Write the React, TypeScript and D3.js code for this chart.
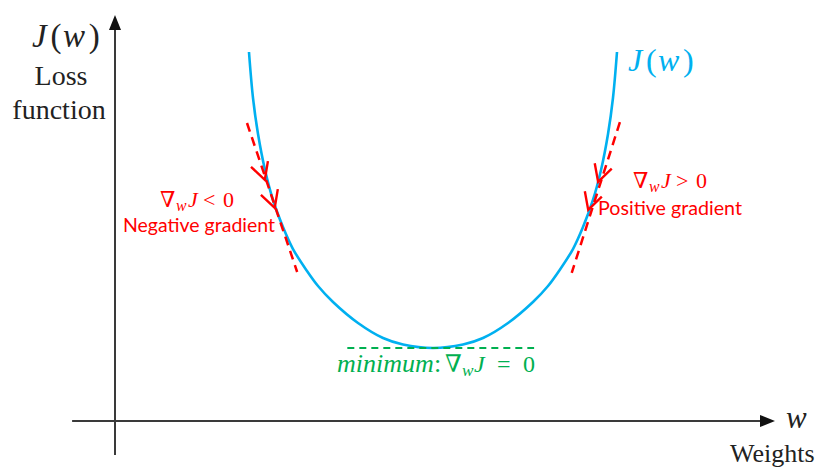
import React from "react";
import * as d3 from "d3";

// Loss curve J(w), sampled along the bowl (left wall → minimum → right wall)
const curveW = [20.3, 20.91, 21.67, 22.73, 23.94, 25.45, 26.97, 29.09, 30.76, 33.03, 36.82, 40.61, 43.64, 48.18, 52.73, 55.76, 59.55, 63.33, 65.61, 67.27, 69.39, 70.91, 72.42, 73.64, 74.7, 75.45, 76.06];
const curveJ = [90.89, 79.56, 70.69, 61.82, 54.43, 47.78, 42.36, 36.95, 33.25, 29.31, 24.14, 20.44, 18.84, 17.98, 18.84, 20.44, 24.14, 29.31, 33.25, 36.95, 42.36, 47.78, 54.43, 61.82, 70.69, 79.56, 90.89];

// Tangent segments [w0, J0, w1, J1]
const tangentLeft = [20.0, 73.4, 27.6, 36.7];
const tangentRight = [76.5, 73.6, 69.2, 36.5];

// Arrow tips along each tangent (w, J)
const arrowsLeftW = [22.7, 24.2];
const arrowsLeftJ = [59.4, 52.5];
const arrowsRightW = [73.2, 71.7];
const arrowsRightJ = [58.9, 52.0];

// Flat tangent at the minimum
const minLineW = [35.2, 63.5];
const minJ = 17.98;

// Axis extents
const xAxisW = [-6.5, 100];
const yAxisJ = [-8.4, 100];

const W = 827;
const H = 468;

const x = d3.scaleLinear().domain([0, 100]).range([115, 775]);
const y = d3.scaleLinear().domain([0, 100]).range([421, 15]);

const BLUE = "#00b0f0";
const RED = "#ff0000";
const GREEN = "#00b050";
const AXIS = "#3a3a3a";
const SERIF = "'Liberation Serif', 'DejaVu Serif', serif";
const SANS = "Lato, 'Open Sans', sans-serif";

function chevron(tx: number, ty: number, dx: number, dy: number, len = 19, half = 28) {
  // dx, dy: direction of travel; arms point backwards
  const back = Math.atan2(-dy, -dx);
  const a = (half * Math.PI) / 180;
  const p1 = [tx + len * Math.cos(back - a), ty + len * Math.sin(back - a)];
  const p2 = [tx + len * Math.cos(back + a), ty + len * Math.sin(back + a)];
  return `M${p1[0]},${p1[1]}L${tx},${ty}L${p2[0]},${p2[1]}`;
}

// "J(w)" with each glyph placed like a math layout
function JofW({ px, py, size, fill }: { px: number; py: number; size: number; fill: string }) {
  const k = size / 32;
  return (
    <text y={py} fontFamily={SERIF} fontSize={size} fill={fill}>
      <tspan x={px} fontStyle="italic">J</tspan>
      <tspan x={px + 18 * k}>(</tspan>
      <tspan x={px + 30 * k} fontStyle="italic">w</tspan>
      <tspan x={px + 55 * k}>)</tspan>
    </text>
  );
}

// "∇_w J <op> 0" with glyph offsets [w, J, op, 0]
function GradLabel({
  px, py, op, fill, size = 22, offs = [16, 28, 43, 63],
}: { px: number; py: number; op: string; fill: string; size?: number; offs?: number[] }) {
  return (
    <text y={py} fontFamily={SERIF} fontSize={size} fill={fill}>
      <tspan x={px}>∇</tspan>
      <tspan x={px + offs[0]} fontStyle="italic" fontSize={size * 0.72} dy={4}>w</tspan>
      <tspan x={px + offs[1]} fontStyle="italic" dy={-4}>J</tspan>
      <tspan x={px + offs[2]}>{op}</tspan>
      <tspan x={px + offs[3]}>0</tspan>
    </text>
  );
}

export default function App() {
  const pts: [number, number][] = curveW.map((w, i) => [w, curveJ[i]]);
  const line = d3
    .line<[number, number]>()
    .x((d) => x(d[0]))
    .y((d) => y(d[1]))
    .curve(d3.curveCatmullRom.alpha(0.5));

  const ldx = x(tangentLeft[2]) - x(tangentLeft[0]);
  const ldy = y(tangentLeft[3]) - y(tangentLeft[1]);
  const rdx = x(tangentRight[2]) - x(tangentRight[0]);
  const rdy = y(tangentRight[3]) - y(tangentRight[1]);

  const x0 = x(0);
  const y0 = y(0);

  return (
    <svg
      width={W}
      height={H}
      style={{ position: "absolute", left: 0, top: 0, background: "#fff" }}
    >
      {/* axes */}
      <line x1={x(xAxisW[0])} x2={x(xAxisW[1]) - 8} y1={y0} y2={y0} stroke={AXIS} strokeWidth={2} />
      <path d={`M${x(xAxisW[1])},${y0}L${x(xAxisW[1]) - 15},${y0 - 6}L${x(xAxisW[1]) - 15},${y0 + 6}Z`} fill="#111" />
      <line x1={x0} x2={x0} y1={y(yAxisJ[0])} y2={y(yAxisJ[1]) + 8} stroke={AXIS} strokeWidth={2} />
      <path d={`M${x0},${y(yAxisJ[1])}L${x0 - 6},${y(yAxisJ[1]) + 15}L${x0 + 6},${y(yAxisJ[1]) + 15}Z`} fill="#111" />

      {/* axis labels */}
      <JofW px={32} py={47} size={33} fill="#222" />
      <text x={61} y={85} fontFamily={SERIF} fontSize={28} fill="#222" textAnchor="middle">Loss</text>
      <text x={59} y={119} fontFamily={SERIF} fontSize={28} fill="#222" textAnchor="middle">function</text>
      <text x={786} y={428} fontFamily={SERIF} fontSize={31} fontStyle="italic" fill="#222">w</text>
      <text x={730} y={462} fontFamily={SERIF} fontSize={26} fill="#222">Weights</text>

      {/* loss curve */}
      <path d={line(pts) ?? ""} fill="none" stroke={BLUE} strokeWidth={2.6} />
      <JofW px={628} py={71} size={32} fill={BLUE} />

      {/* tangents */}
      <line
        x1={x(tangentLeft[0])} y1={y(tangentLeft[1])} x2={x(tangentLeft[2])} y2={y(tangentLeft[3])}
        stroke={RED} strokeWidth={2.5} strokeDasharray="9 6"
      />
      <line
        x1={x(tangentRight[0])} y1={y(tangentRight[1])} x2={x(tangentRight[2])} y2={y(tangentRight[3])}
        stroke={RED} strokeWidth={2.5} strokeDasharray="9 6"
      />
      {arrowsLeftW.map((w, i) => (
        <path key={`l${i}`} d={chevron(x(w), y(arrowsLeftJ[i]), ldx, ldy)} fill="none" stroke={RED} strokeWidth={2.4} />
      ))}
      {arrowsRightW.map((w, i) => (
        <path key={`r${i}`} d={chevron(x(w), y(arrowsRightJ[i]), rdx, rdy)} fill="none" stroke={RED} strokeWidth={2.4} />
      ))}

      {/* gradient labels */}
      <GradLabel px={160} py={207} op="<" fill={RED} />
      <text x={123} y={232} fontFamily={SANS} fontSize={19.5} fill={RED} textLength={152} lengthAdjust="spacingAndGlyphs">Negative gradient</text>
      <GradLabel px={633} py={188} op=">" fill={RED} />
      <text x={598} y={215} fontFamily={SANS} fontSize={19.5} fill={RED} textLength={144} lengthAdjust="spacingAndGlyphs">Positive gradient</text>

      {/* minimum */}
      <line
        x1={x(minLineW[0])} x2={x(minLineW[1])} y1={y(minJ)} y2={y(minJ)}
        stroke={GREEN} strokeWidth={2} strokeDasharray="7 5"
      />
      <text y={372} fontFamily={SERIF} fontSize={26} fill={GREEN}>
        <tspan x={337} fontStyle="italic">minimum</tspan>
        <tspan x={434}>:</tspan>
      </text>
      <GradLabel px={445} py={372} op="=" fill={GREEN} size={24} offs={[17, 29, 52, 78]} />
    </svg>
  );
}
